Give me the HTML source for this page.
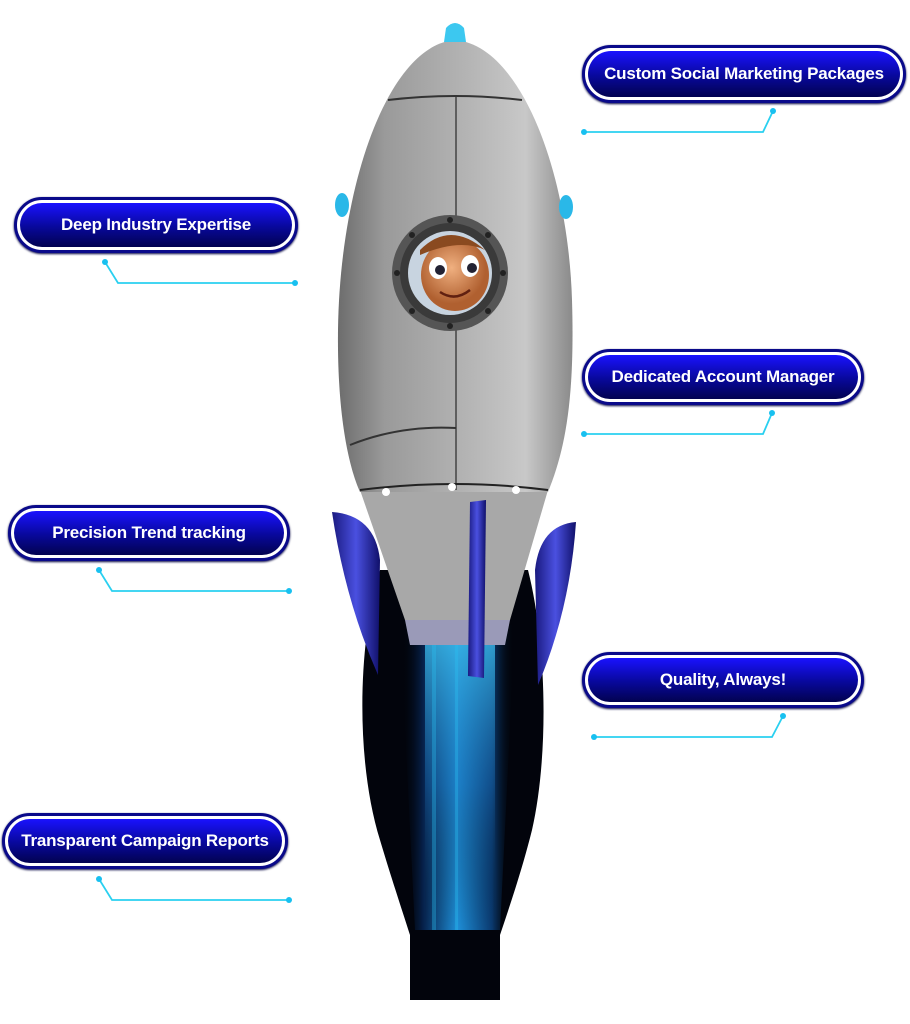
<!DOCTYPE html>
<html><head><meta charset="utf-8"><style>
body{margin:0;background:#fff;width:910px;height:1024px;overflow:hidden;position:relative;font-family:"Liberation Sans",sans-serif}
.pill{position:absolute;box-sizing:border-box;border-radius:30px;background:#fff;border:3px solid #0a0a8a;box-shadow:0 1px 2px #000040}
.pill div{position:absolute;left:3px;right:3px;top:3px;bottom:3px;border-radius:26px;background:linear-gradient(#1a12ff,#08089a 55%,#020250);color:#fff;font-weight:bold;font-size:17px;display:flex;align-items:center;justify-content:center;white-space:nowrap;letter-spacing:-0.2px}
svg{position:absolute;left:0;top:0}
</style></head><body>
<svg width="910" height="1024" viewBox="0 0 910 1024">
<defs>
<linearGradient id="body" x1="0" x2="1"><stop offset="0" stop-color="#6d6d6d"/><stop offset=".2" stop-color="#9a9a9a"/><stop offset=".55" stop-color="#b4b4b4"/><stop offset=".8" stop-color="#c8c8c8"/><stop offset="1" stop-color="#8a8a8a"/></linearGradient>
<linearGradient id="flame" x1="0" x2="1"><stop offset="0" stop-color="#000" stop-opacity="0"/><stop offset=".2" stop-color="#06204a"/><stop offset=".5" stop-color="#1e8fd8"/><stop offset=".8" stop-color="#0a3a70"/><stop offset="1" stop-color="#000" stop-opacity="0"/></linearGradient>
<linearGradient id="flamev" x1="0" y1="0" x2="0" y2="1"><stop offset="0" stop-color="#3ab8e8" stop-opacity=".8"/><stop offset=".5" stop-color="#1a6ab0" stop-opacity=".4"/><stop offset="1" stop-color="#000" stop-opacity="0"/></linearGradient>
<linearGradient id="fin" x1="0" x2="1"><stop offset="0" stop-color="#1a1a80"/><stop offset=".5" stop-color="#4a50e0"/><stop offset="1" stop-color="#10106a"/></linearGradient>
<radialGradient id="face" cx=".45" cy=".4"><stop offset="0" stop-color="#f0b080"/><stop offset="1" stop-color="#b06030"/></radialGradient>
</defs>
<path d="M380 570 C358 640 355 760 380 840 C392 880 402 910 410 935 L410 1000 L500 1000 L500 935 C510 905 522 870 532 830 C548 760 548 650 528 570 Z" fill="#02040c"/>
<path d="M400 625 L515 625 L500 930 L415 930 Z" fill="url(#flame)"/>
<rect x="425" y="640" width="70" height="290" fill="url(#flamev)"/>
<rect x="432" y="640" width="4" height="290" fill="#2ac0f0" opacity=".35"/>
<rect x="455" y="640" width="3" height="290" fill="#2ac0f0" opacity=".35"/>
<path d="M332 512 Q375 515 380 560 L378 675 Q345 600 332 512 Z" fill="url(#fin)"/>
<path d="M576 522 Q540 525 535 570 L538 685 Q570 610 576 522 Z" fill="url(#fin)"/>
<path d="M360 490 L548 490 L510 620 L405 620 Z" fill="#a8a8a8"/>
<path d="M405 620 L510 620 L505 645 L410 645 Z" fill="#9a9ab8"/>
<path d="M455 40 C390 45 340 180 338 330 C337 420 350 470 360 492 L548 492 C565 450 575 400 572 300 C568 170 520 45 455 40 Z" fill="url(#body)"/>
<path d="M388 100 Q455 92 522 100" stroke="#333" stroke-width="2" fill="none"/>
<path d="M456 97 L456 490" stroke="#444" stroke-width="1.5"/>
<path d="M350 445 Q400 425 456 428" stroke="#333" stroke-width="2" fill="none"/>
<path d="M360 490 Q455 478 548 490" stroke="#222" stroke-width="2" fill="none"/>
<path d="M446 28 Q455 18 464 28 L466 42 L444 42 Z" fill="#3cc8f0"/>
<ellipse cx="342" cy="205" rx="7" ry="12" fill="#2ab8e8"/>
<ellipse cx="566" cy="207" rx="7" ry="12" fill="#2ab8e8"/>
<circle cx="386" cy="492" r="4" fill="#fff"/><circle cx="452" cy="487" r="4" fill="#fff"/><circle cx="516" cy="490" r="4" fill="#fff"/>
<path d="M470 502 L486 500 L484 678 L468 676 Z" fill="url(#fin)"/>
<circle cx="450" cy="273" r="58" fill="#555"/>
<circle cx="450" cy="273" r="50" fill="#3a3a3a"/>
<circle cx="450" cy="273" r="42" fill="#c8d4e0"/>
<ellipse cx="455" cy="275" rx="34" ry="36" fill="url(#face)"/>
<path d="M420 250 Q450 220 485 250 Q460 238 420 255Z" fill="#8a4a20"/>
<ellipse cx="438" cy="268" rx="9" ry="11" fill="#fff"/><circle cx="440" cy="270" r="5" fill="#223"/>
<ellipse cx="470" cy="266" rx="9" ry="11" fill="#fff"/><circle cx="472" cy="268" r="5" fill="#223"/>
<path d="M440 292 Q455 302 470 290" stroke="#602010" stroke-width="2.5" fill="none"/>
<g fill="#222"><circle cx="450" cy="220" r="3"/><circle cx="450" cy="326" r="3"/><circle cx="397" cy="273" r="3"/><circle cx="503" cy="273" r="3"/><circle cx="412" cy="235" r="3"/><circle cx="488" cy="235" r="3"/><circle cx="412" cy="311" r="3"/><circle cx="488" cy="311" r="3"/></g>
<g stroke="#2ad0f0" stroke-width="1.8" fill="none">
<polyline points="584,132 763,132 773,111"/>
<polyline points="105,262 118,283 295,283"/>
<polyline points="584,434 763,434 772,413"/>
<polyline points="99,570 112,591 289,591"/>
<polyline points="594,737 772,737 783,716"/>
<polyline points="99,879 112,900 289,900"/>
</g>
<g fill="#18c0f0">
<circle cx="584" cy="132" r="3"/><circle cx="773" cy="111" r="3"/>
<circle cx="105" cy="262" r="3"/><circle cx="295" cy="283" r="3"/>
<circle cx="584" cy="434" r="3"/><circle cx="772" cy="413" r="3"/>
<circle cx="99" cy="570" r="3"/><circle cx="289" cy="591" r="3"/>
<circle cx="594" cy="737" r="3"/><circle cx="783" cy="716" r="3"/>
<circle cx="99" cy="879" r="3"/><circle cx="289" cy="900" r="3"/>
</g>
</svg>
<div class="pill" style="left:582px;top:45px;width:324px;height:58px"><div>Custom Social Marketing Packages</div></div>
<div class="pill" style="left:14px;top:197px;width:284px;height:56px"><div>Deep Industry Expertise</div></div>
<div class="pill" style="left:582px;top:349px;width:282px;height:56px"><div>Dedicated Account Manager</div></div>
<div class="pill" style="left:8px;top:505px;width:282px;height:56px"><div>Precision Trend tracking</div></div>
<div class="pill" style="left:582px;top:652px;width:282px;height:56px"><div>Quality, Always!</div></div>
<div class="pill" style="left:2px;top:813px;width:286px;height:56px"><div>Transparent Campaign Reports</div></div>
</body></html>
